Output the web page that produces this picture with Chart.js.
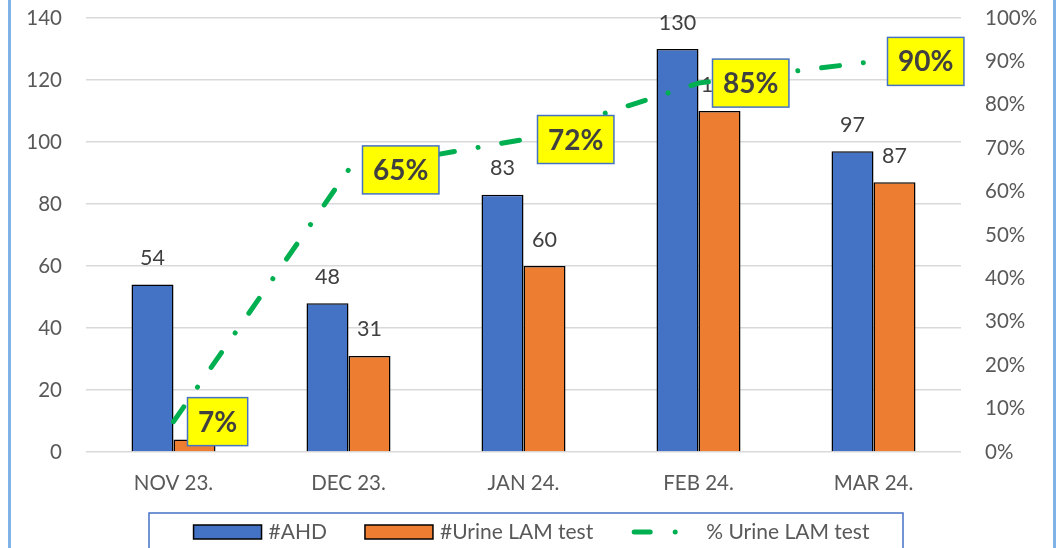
<!DOCTYPE html>
<html>
<head>
<meta charset="utf-8">
<script src="https://cdn.jsdelivr.net/npm/chart.js@4.4.1/dist/chart.umd.min.js"></script>
<style>
  html, body { margin: 0; padding: 0; background: #ffffff; }
  #wrap { width: 1058px; height: 548px; position: relative; }
</style>
</head>
<body>
<div id="wrap"><canvas id="chart" width="1058" height="548"></canvas></div>
<script>
// Monthly AHD cases and urine LAM testing
const categories = ['NOV 23.', 'DEC 23.', 'JAN 24.', 'FEB 24.', 'MAR 24.'];
const ahdCounts = [54, 48, 83, 130, 97];
const lamCounts = [4, 31, 60, 110, 87];
const lamPercent = [7, 65, 72, 85, 90];
const countTicks = [0, 20, 40, 60, 80, 100, 120, 140];
const percentTicks = [0, 10, 20, 30, 40, 50, 60, 70, 80, 90, 100];

const FONT = 'Lato';
const TICK_COLOR = '#595959';
const LABEL_COLOR = '#404040';
const BLUE = '#4472C4';
const ORANGE = '#ED7D31';
const GREEN = '#00B050';
const LINE_DASH = [18, 24, 0.01, 24];

// White background plus the thin blue frame around the figure
const framePlugin = {
  id: 'frame',
  beforeDraw(chart) {
    const ctx = chart.ctx;
    ctx.save();
    ctx.fillStyle = '#ffffff';
    ctx.fillRect(0, 0, chart.width, chart.height);
    ctx.strokeStyle = '#7FB2E6';
    ctx.lineWidth = 3;
    ctx.strokeRect(9.5, -10, 1045, chart.height + 20);
    ctx.restore();
  }
};

// Count labels above each bar
const barLabelPlugin = {
  id: 'barLabels',
  beforeDatasetsDraw(chart) {
    const ctx = chart.ctx;
    ctx.save();
    ctx.font = `21.5px ${FONT}`;
    ctx.fillStyle = LABEL_COLOR;
    ctx.textAlign = 'center';
    ctx.textBaseline = 'alphabetic';
    [0, 1].forEach(di => {
      const meta = chart.getDatasetMeta(di);
      const data = chart.data.datasets[di].data;
      meta.data.forEach((el, i) => {
        ctx.fillText(String(data[i]), el.x, el.y - 19.5);
      });
    });
    ctx.restore();
  }
};

// Yellow boxed percentage labels beside each line point
const pctLabelPlugin = {
  id: 'pctLabels',
  afterDatasetsDraw(chart) {
    const ctx = chart.ctx;
    const di = 2;
    const meta = chart.getDatasetMeta(di);
    const data = chart.data.datasets[di].data;
    ctx.save();
    ctx.font = `bold 28px ${FONT}`;
    meta.data.forEach((pt, i) => {
      const text = data[i] + '%';
      const tw = ctx.measureText(text).width;
      const w = tw + 21;
      const h = 48;
      const left = pt.x + 14;
      const top = pt.y - h / 2;
      ctx.fillStyle = '#FFFF00';
      ctx.fillRect(left, top, w, h);
      ctx.strokeStyle = BLUE;
      ctx.lineWidth = 1.5;
      ctx.strokeRect(left, top, w, h);
      ctx.fillStyle = LABEL_COLOR;
      ctx.textAlign = 'center';
      ctx.textBaseline = 'alphabetic';
      ctx.fillText(text, left + w / 2, pt.y + 10);
    });
    ctx.restore();
  }
};

// Legend strip in a blue-outlined box below the axis
const legendPlugin = {
  id: 'boxLegend',
  afterDraw(chart) {
    const ctx = chart.ctx;
    const ds = chart.data.datasets;
    ctx.save();
    ctx.strokeStyle = BLUE;
    ctx.lineWidth = 1.5;
    ctx.strokeRect(149, 513, 754, 60);

    ctx.font = `21px ${FONT}`;
    const cy = 532;
    const swW = 68, gapText = 7, gapItem = 38;
    const widths = ds.map(d => ctx.measureText(d.label).width);
    const total = widths.reduce((a, b) => a + b, 0) + 3 * (swW + gapText) + 2 * gapItem;
    let x = 531.5 - total / 2;
    ds.forEach((d, i) => {
      if (d.type === 'line') {
        ctx.save();
        ctx.strokeStyle = d.borderColor;
        ctx.lineWidth = d.borderWidth;
        ctx.lineCap = 'round';
        ctx.setLineDash([16, 25, 0.01, 25, 0.01, 200]);
        ctx.beginPath();
        ctx.moveTo(x + 3, cy);
        ctx.lineTo(x + swW, cy);
        ctx.stroke();
        ctx.restore();
      } else {
        ctx.fillStyle = d.backgroundColor;
        ctx.fillRect(x, cy - 7, swW, 14);
        ctx.strokeStyle = '#000';
        ctx.lineWidth = 1.5;
        ctx.strokeRect(x, cy - 7, swW, 14);
      }
      x += swW + gapText;
      ctx.fillStyle = TICK_COLOR;
      ctx.textAlign = 'left';
      ctx.textBaseline = 'middle';
      ctx.fillText(d.label, x, cy);
      x += widths[i] + gapItem;
    });
    ctx.restore();
  }
};

new Chart(document.getElementById('chart'), {
  data: {
    labels: categories,
    datasets: [
      {
        type: 'bar', label: '#AHD', data: ahdCounts, yAxisID: 'y', order: 1,
        backgroundColor: BLUE, borderColor: '#000', borderWidth: 1.5,
        categoryPercentage: 0.48, barPercentage: 1
      },
      {
        type: 'bar', label: '#Urine LAM test', data: lamCounts, yAxisID: 'y', order: 1,
        backgroundColor: ORANGE, borderColor: '#000', borderWidth: 1.5,
        categoryPercentage: 0.48, barPercentage: 1
      },
      {
        type: 'line', label: '% Urine LAM test', data: lamPercent, yAxisID: 'y1', order: 0,
        borderColor: GREEN, backgroundColor: GREEN, borderWidth: 5,
        borderDash: LINE_DASH, borderCapStyle: 'round', borderJoinStyle: 'round',
        pointRadius: 0, pointHoverRadius: 0, tension: 0, fill: false
      }
    ]
  },
  options: {
    responsive: false,
    animation: false,
    events: [],
    layout: { padding: { top: 0, left: 0, right: 0, bottom: 0 } },
    plugins: { legend: { display: false }, tooltip: { enabled: false } },
    scales: {
      x: {
        type: 'category',
        grid: { display: false, drawTicks: false },
        border: { display: false },
        ticks: { color: TICK_COLOR, font: { family: FONT, size: 20.5 }, padding: 19, maxRotation: 0 },
        afterFit(s) { s.height = 96; }
      },
      y: {
        position: 'left',
        min: countTicks[0], max: countTicks[countTicks.length - 1],
        afterBuildTicks(s) { s.ticks = countTicks.map(v => ({ value: v })); },
        grid: { color: '#D9D9D9', lineWidth: 1.5, drawTicks: false },
        border: { display: false },
        ticks: { color: TICK_COLOR, font: { family: FONT, size: 20.5 }, padding: 24 },
        afterFit(s) { s.width = 86; s.paddingTop = 18; }
      },
      y1: {
        position: 'right',
        min: percentTicks[0], max: percentTicks[percentTicks.length - 1],
        afterBuildTicks(s) { s.ticks = percentTicks.map(v => ({ value: v })); },
        grid: { display: false, drawTicks: false },
        border: { display: false },
        ticks: { color: TICK_COLOR, font: { family: FONT, size: 20.5 }, padding: 24, callback: v => v + '%' },
        afterFit(s) { s.width = 97; s.paddingTop = 18; }
      }
    }
  },
  plugins: [framePlugin, barLabelPlugin, pctLabelPlugin, legendPlugin]
});
</script>
</body>
</html>
